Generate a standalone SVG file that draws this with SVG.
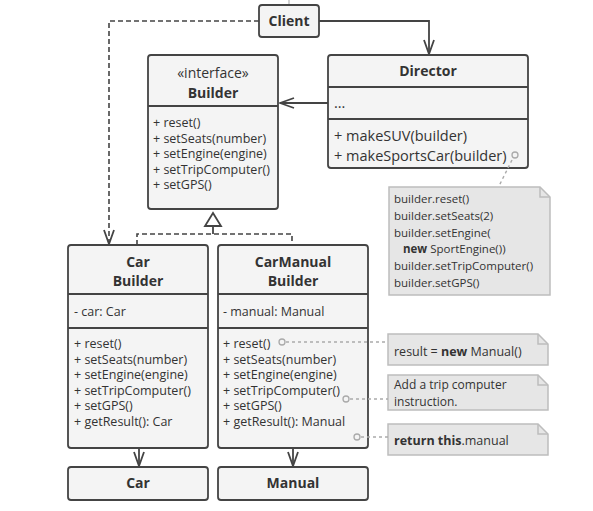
<svg xmlns="http://www.w3.org/2000/svg" width="593" height="511" viewBox="0 0 593 511">
<style>
.box{fill:#f4f4f4;stroke:#444;stroke-width:1.8}
.div{stroke:#444;stroke-width:1.8;fill:none}
.note{fill:#e6e6e6;stroke:#bdbdbd;stroke-width:1.5}
.fold{fill:none;stroke:#bdbdbd;stroke-width:1.5}
.t{font-family:"Open Sans","Liberation Sans",sans-serif;fill:#333;font-size:12.5px}
.d{font-size:14.5px}
.n{font-size:11.5px}
.b{font-weight:bold}
.h{font-family:"Open Sans","Liberation Sans",sans-serif;fill:#333;font-size:14px;font-weight:bold;text-anchor:middle}
.line{stroke:#444;stroke-width:1.8;fill:none}
.dash{stroke:#444;stroke-width:1.6;fill:none;stroke-dasharray:5 3}
.dot{stroke:#aaa;stroke-width:1.4;fill:none;stroke-dasharray:3 3}
.pin{stroke:#aaa;stroke-width:1.3;fill:none}
</style>
<defs>
<marker id="arr" viewBox="0 0 16 12" refX="15" refY="6" markerWidth="16" markerHeight="12" markerUnits="userSpaceOnUse" orient="auto">
<path d="M1,1 L15,6 L1,11" fill="none" stroke="#444" stroke-width="1.8"/>
</marker>
</defs>

<g id="connectors">
<line x1="289" y1="0" x2="289" y2="5" stroke="#bbb" stroke-width="1.3"/>
<path class="line" d="M319,21 H429 V54" marker-end="url(#arr)"/>
<path class="dash" d="M259,21 H109 V244" marker-end="url(#arr)"/>
<path class="line" d="M328,103 H280" marker-end="url(#arr)"/>
<path class="dash" d="M137,245 V234 H292 V245"/>
<line class="line" x1="213" y1="226" x2="213" y2="234"/>
<path d="M213,213 L221,226 L205,226 Z" fill="#fff" stroke="#444" stroke-width="1.8"/>
<path class="line" d="M139,448 V466" marker-end="url(#arr)"/>
<path class="line" d="M293,448 V466" marker-end="url(#arr)"/>
</g>

<g id="client">
<rect class="box" x="259" y="5" width="60" height="32" rx="3"/>
<text class="h" x="289" y="26">Client</text>
</g>

<g id="builder">
<rect class="box" x="148" y="55" width="130" height="154" rx="3"/>
<line class="div" x1="148" y1="106" x2="278" y2="106"/>
<text class="t" x="213" y="78" text-anchor="middle" style="font-size:14px">«interface»</text>
<text class="h" x="213" y="98">Builder</text>
<text class="t" x="153" y="127">+ reset()</text>
<text class="t" x="153" y="142.5">+ setSeats(number)</text>
<text class="t" x="153" y="158">+ setEngine(engine)</text>
<text class="t" x="153" y="173.5">+ setTripComputer()</text>
<text class="t" x="153" y="189">+ setGPS()</text>
</g>

<g id="director">
<rect class="box" x="328" y="55" width="200" height="113" rx="3"/>
<line class="div" x1="328" y1="87" x2="528" y2="87"/>
<line class="div" x1="328" y1="119" x2="528" y2="119"/>
<text class="h" x="428" y="76">Director</text>
<text class="t d" x="334" y="108">...</text>
<text class="t d" x="334" y="141">+ makeSUV(builder)</text>
<text class="t d" x="334" y="161">+ makeSportsCar(builder)</text>
</g>

<g id="director-note">
<path class="note" d="M389,187 H540 L550,197 V295 H389 Z"/>
<path class="fold" d="M540,187 V197 H550"/>
<text class="t n" x="394" y="203">builder.reset()</text>
<text class="t n" x="394" y="220">builder.setSeats(2)</text>
<text class="t n" x="394" y="237">builder.setEngine(</text>
<text class="t n" x="403" y="253"><tspan class="b">new</tspan> SportEngine())</text>
<text class="t n" x="394" y="270">builder.setTripComputer()</text>
<text class="t n" x="394" y="287">builder.setGPS()</text>
</g>

<g id="car-builder">
<rect class="box" x="68" y="245" width="140" height="203" rx="3"/>
<line class="div" x1="68" y1="294" x2="208" y2="294"/>
<line class="div" x1="68" y1="328" x2="208" y2="328"/>
<text class="h" x="138" y="267">Car</text>
<text class="h" x="138" y="286">Builder</text>
<text class="t" x="74" y="316">- car: Car</text>
<text class="t" x="74" y="348">+ reset()</text>
<text class="t" x="74" y="363.5">+ setSeats(number)</text>
<text class="t" x="74" y="379">+ setEngine(engine)</text>
<text class="t" x="74" y="394.5">+ setTripComputer()</text>
<text class="t" x="74" y="410">+ setGPS()</text>
<text class="t" x="74" y="425.5">+ getResult(): Car</text>
</g>

<g id="carmanual-builder">
<rect class="box" x="218" y="245" width="150" height="203" rx="3"/>
<line class="div" x1="218" y1="294" x2="368" y2="294"/>
<line class="div" x1="218" y1="328" x2="368" y2="328"/>
<text class="h" x="293" y="267">CarManual</text>
<text class="h" x="293" y="286">Builder</text>
<text class="t" x="223" y="316">- manual: Manual</text>
<text class="t" x="223" y="348">+ reset()</text>
<text class="t" x="223" y="363.5">+ setSeats(number)</text>
<text class="t" x="223" y="379">+ setEngine(engine)</text>
<text class="t" x="223" y="394.5">+ setTripComputer()</text>
<text class="t" x="223" y="410">+ setGPS()</text>
<text class="t" x="223" y="425.5">+ getResult(): Manual</text>
</g>

<g id="note-reset">
<path class="note" d="M388,334 H538 L548,344 V365 H388 Z"/>
<path class="fold" d="M538,334 V344 H548"/>
<text class="t" x="394" y="356">result = <tspan class="b">new</tspan> Manual()</text>
</g>

<g id="note-trip">
<path class="note" d="M388,375 H538 L548,385 V410 H388 Z"/>
<path class="fold" d="M538,375 V385 H548"/>
<text class="t" x="394" y="389" style="font-size:12px">Add a trip computer</text>
<text class="t" x="394" y="405.5" style="font-size:12px">instruction.</text>
</g>

<g id="note-result">
<path class="note" d="M388,424 H538 L548,434 V455 H388 Z"/>
<path class="fold" d="M538,424 V434 H548"/>
<text class="t" x="394" y="444.5"><tspan class="b">return this</tspan>.manual</text>
</g>

<g id="car">
<rect class="box" x="68" y="467" width="140" height="33" rx="3"/>
<text class="h" x="138" y="488">Car</text>
</g>

<g id="manual">
<rect class="box" x="218" y="467" width="150" height="33" rx="3"/>
<text class="h" x="293" y="488">Manual</text>
</g>

<g id="note-links">
<circle class="pin" cx="515" cy="155" r="3"/>
<line class="dot" x1="512" y1="160" x2="499" y2="186"/>
<circle class="pin" cx="282" cy="342" r="3"/>
<line class="dot" x1="286" y1="342" x2="388" y2="342"/>
<circle class="pin" cx="346" cy="399" r="3"/>
<line class="dot" x1="350" y1="399" x2="388" y2="399"/>
<circle class="pin" cx="357" cy="437" r="3"/>
<line class="dot" x1="361" y1="437" x2="388" y2="437"/>
</g>
</svg>
